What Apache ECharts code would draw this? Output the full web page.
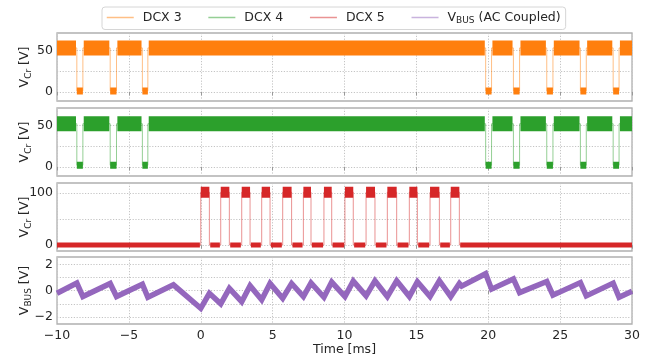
<!DOCTYPE html>
<html>
<head>
<meta charset="utf-8">
<script src="https://cdn.jsdelivr.net/npm/echarts@6/dist/echarts.min.js"></script>
<style>
  html, body { margin: 0; padding: 0; background: #fff; }
  #chart { width: 648px; height: 357px; }
</style>
</head>
<body>
<div id="chart"></div>
<script>
// Time axis (ms)
const timeMin = -10
const timeMax = 30

// DCX 3: windows where the converter stops (ms), band levels (V)
const dcx3OffStart = [-8.62, -6.30, -4.06, 19.82, 21.75, 24.07, 26.41, 28.69]
const dcx3OffEnd = [-8.20, -5.86, -3.68, 20.23, 22.18, 24.50, 26.82, 29.10]
const dcx3OnV = 53
const dcx3OffV = 1.2

// DCX 4
const dcx4OffStart = [-8.62, -6.30, -4.06, 19.82, 21.75, 24.07, 26.41, 28.69]
const dcx4OffEnd = [-8.20, -5.86, -3.68, 20.23, 22.18, 24.50, 26.82, 29.10]
const dcx4OnV = 52
const dcx4OffV = 2

// DCX 5: windows where the converter runs (ms)
const dcx5OnStart = [0, 1.39, 2.85, 4.24, 5.70, 7.14, 8.57, 10.03, 11.50, 12.98, 14.51, 15.95, 17.39]
const dcx5OnEnd = [0.60, 1.99, 3.43, 4.82, 6.32, 7.67, 9.11, 10.61, 12.12, 13.63, 15.07, 16.60, 17.99]
const dcx5OnV = 101.5
const dcx5OffV = 0.5

// VBUS (AC coupled) sawtooth vertices
const vbusT = [-10, -8.62, -8.20, -6.30, -5.86, -4.06, -3.68, -1.90, 0, 0.60, 1.39, 1.99, 2.85, 3.43,
  4.24, 4.82, 5.70, 6.32, 7.14, 7.67, 8.57, 9.11, 10.03, 10.61, 11.50, 12.12, 12.98, 13.63, 14.51,
  15.07, 15.95, 16.60, 17.39, 17.99, 18.15, 19.82, 20.23, 21.75, 22.18, 24.07, 24.50, 26.41, 26.82,
  28.69, 29.10, 30]
const vbusV = [-0.2, 0.58, -0.45, 0.55, -0.45, 0.5, -0.5, 0.45, -1.35, -0.2, -1.0, 0.18, -0.84, 0.38,
  -0.7, 0.55, -0.58, 0.55, -0.45, 0.6, -0.5, 0.66, -0.45, 0.73, -0.4, 0.76, -0.45, 0.76, -0.45,
  0.68, -0.45, 0.76, -0.45, 0.55, 0.35, 1.3, 0.12, 0.9, -0.15, 0.7, -0.34, 0.62, -0.4,
  0.58, -0.5, -0.05]

// Colors
const ORANGE = '#ff7f0e'
const GREEN = '#2ca02c'
const RED = '#d62728'
const PURPLE = '#9467bd'
const FONT = 'DejaVu Sans'
const TXT = '#262626'
const GAP = 0.06

// thin trace: level `out` outside the windows, `inn` inside
const trace = (starts, ends, out, inn) => {
  const d = [[timeMin, out]]
  starts.forEach((s, i) => {
    d.push([s, out], [s, inn], [ends[i], inn], [ends[i], out])
  })
  d.push([timeMax, out])
  return d
}
// thick plateaus, broken by '-' points
const plateaus = (pairs, v) => {
  const d = []
  pairs.forEach(([a, b]) => d.push([a, v], [b, v], [b, '-']))
  return d
}
const inside = (starts, ends) => starts.map((s, i) => [s, ends[i]])
const outside = (starts, ends) => {
  const p = []
  let prev = timeMin
  starts.forEach((s, i) => { p.push([prev, s - GAP]); prev = ends[i] + GAP })
  p.push([prev, timeMax])
  return p
}

const fade = (hex, a) => {
  const n = parseInt(hex.slice(1), 16)
  return `rgba(${n >> 16},${(n >> 8) & 255},${n & 255},${a})`
}

const minus = (v) => String(v).replace('-', '\u2212')

const grids = [
  { top: 33, height: 68 },
  { top: 108, height: 68 },
  { top: 183, height: 68 },
  { top: 257, height: 68 },
].map((g) => ({ ...g, left: 57, right: 16, show: true, borderColor: '#b0b0b0', borderWidth: 1.3 }))

const gridLine = { show: true, lineStyle: { type: [1.2, 1.6], color: '#c4c4c4', width: 1 } }

const xAxes = grids.map((g, i) => ({
  type: 'value', gridIndex: i, min: timeMin, max: timeMax, interval: 5,
  axisLine: { show: false },
  axisTick: { show: true, length: 3.5, lineStyle: { color: '#999' } },
  axisLabel: { show: i === 3, margin: 5, fontSize: 12.5, fontFamily: FONT, color: TXT, formatter: minus },
  splitLine: gridLine,
  name: i === 3 ? 'Time [ms]' : '',
  nameLocation: 'middle', nameGap: 19, nameMoveOverlap: false,
  nameTextStyle: { fontSize: 12.5, fontFamily: FONT, color: TXT },
}))

const richName = {
  m: { fontSize: 12.5, fontFamily: FONT, color: TXT, lineHeight: 16 },
  s: { fontSize: 9, fontFamily: FONT, color: TXT, lineHeight: 12, verticalAlign: 'bottom' },
}

const yAxis = (i, min, max, ticks, labels, name) => ({
  type: 'value', gridIndex: i, min, max,
  axisLine: { show: false },
  axisTick: { show: false, customValues: ticks },
  axisLabel: { customValues: labels, margin: 4, fontSize: 12.5, fontFamily: FONT, color: TXT, formatter: minus },
  splitLine: gridLine,
  name, nameLocation: 'middle', nameRotate: 90, nameGap: 24, nameMoveOverlap: false,
  nameTextStyle: { fontSize: 12.5, fontFamily: FONT, color: TXT, rich: richName },
})

const VCR = '{m|V}{s|Cr}{m| [V]}'
const yAxes = [
  yAxis(0, -11, 71, [0, 25, 50], [0, 50], VCR),
  yAxis(1, -11, 71, [0, 25, 50], [0, 50], VCR),
  yAxis(2, -11, 119, [0, 50, 100], [0, 100], VCR),
  yAxis(3, -2.55, 2.58, [-2, -1, 0, 1, 2], [-2, 0, 2], '{m|V}{s|BUS}{m| [V]}'),
]

const line = (name, idx, data, color, width, z) => ({
  name, type: 'line', xAxisIndex: idx, yAxisIndex: idx, data,
  showSymbol: false, symbol: 'none', silent: true, z,
  itemStyle: { color },
  lineStyle: { color, width, cap: 'butt', join: 'miter' },
})

const series = [
  line('DCX 3', 0, trace(dcx3OffStart, dcx3OffEnd, dcx3OnV, dcx3OffV), fade(ORANGE, 0.5), 1, 1),
  line('dcx3 on', 0, plateaus(outside(dcx3OffStart, dcx3OffEnd), dcx3OnV), ORANGE, 15, 2),
  line('dcx3 off', 0, plateaus(inside(dcx3OffStart, dcx3OffEnd), dcx3OffV), ORANGE, 7, 2),

  line('DCX 4', 1, trace(dcx4OffStart, dcx4OffEnd, dcx4OnV, dcx4OffV), fade(GREEN, 0.5), 1, 1),
  line('dcx4 on', 1, plateaus(outside(dcx4OffStart, dcx4OffEnd), dcx4OnV), GREEN, 15, 2),
  line('dcx4 off', 1, plateaus(inside(dcx4OffStart, dcx4OffEnd), dcx4OffV), GREEN, 7, 2),

  line('DCX 5', 2, trace(dcx5OnStart, dcx5OnEnd, dcx5OffV, dcx5OnV), fade(RED, 0.5), 1, 1),
  line('dcx5 base', 2, plateaus(outside(dcx5OnStart, dcx5OnEnd), dcx5OffV), RED, 5, 2),
  line('dcx5 on', 2, plateaus(inside(dcx5OnStart, dcx5OnEnd), dcx5OnV), RED, 11, 2),

  line('VBUS', 3, vbusT.map((t, i) => [t, vbusV[i]]), PURPLE, 5.5, 2),
]

const legendItem = (name, color) => ({
  name,
  itemStyle: { opacity: 0 },
  lineStyle: { color: fade(color, 0.5), width: 1.5 },
})

const chart = echarts.init(document.getElementById('chart'), null, { renderer: 'canvas' })
chart.setOption({
  animation: false,
  backgroundColor: '#fff',
  grid: grids,
  xAxis: xAxes,
  yAxis: yAxes,
  legend: {
    left: 102, top: 7,
    itemWidth: 27, itemHeight: 14, itemGap: 26,
    padding: [4, 5, 4, 4],
    borderColor: '#d6d6d6', borderWidth: 1, borderRadius: 3,
    textStyle: { fontSize: 12.5, fontFamily: FONT, color: TXT, padding: [0, 0, 0, 4], rich: richName },
    formatter: (n) => (n === 'VBUS' ? '{m|V}{s|BUS}{m| (AC Coupled)}' : n),
    data: [
      legendItem('DCX 3', ORANGE),
      legendItem('DCX 4', GREEN),
      legendItem('DCX 5', RED),
      legendItem('VBUS', PURPLE),
    ],
  },
  series,
})
</script>
</body>
</html>
